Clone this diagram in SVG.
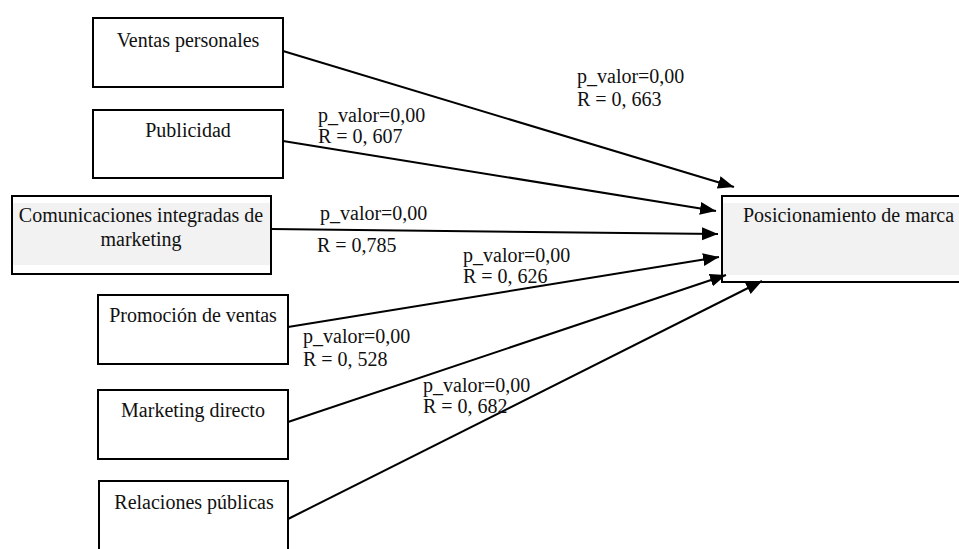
<svg xmlns="http://www.w3.org/2000/svg" width="959" height="549" viewBox="0 0 959 549">
<style>
.box{fill:#fff;stroke:#000;stroke-width:2}
.gray{fill:#f2f2f2;stroke:none}
.t{font-family:"Liberation Serif","Times New Roman",serif;font-size:20px;fill:#111}
.c{text-anchor:middle}
.ln{stroke:#000;stroke-width:2;fill:none;marker-end:url(#ah)}
</style>
<defs>
<marker id="ah" markerUnits="userSpaceOnUse" markerWidth="18" markerHeight="14" refX="16" refY="6.5" orient="auto">
<path d="M0,0 L16,6.5 L0,13 z" fill="#000"/>
</marker>
</defs>
<rect width="959" height="549" fill="#fff"/>
<g id="node-ventas">
<rect class="box" x="93" y="18" width="190" height="69"/>
<text class="t c" x="188" y="47">Ventas personales</text>
</g>
<g id="node-publicidad">
<rect class="box" x="93" y="110" width="190" height="68"/>
<text class="t c" x="188" y="137">Publicidad</text>
</g>
<g id="node-cim">
<rect class="box" x="12" y="196" width="259" height="78"/>
<rect class="gray" x="13" y="203" width="257" height="62"/>
<text class="t c" x="141" y="222">Comunicaciones integradas de</text>
<text class="t c" x="141" y="246">marketing</text>
</g>
<g id="node-promocion">
<rect class="box" x="98" y="295" width="190" height="69"/>
<text class="t c" x="193" y="322">Promoción de ventas</text>
</g>
<g id="node-directo">
<rect class="box" x="98" y="390" width="190" height="69"/>
<text class="t c" x="193" y="417">Marketing directo</text>
</g>
<g id="node-relaciones">
<rect class="box" x="99" y="481" width="189" height="80"/>
<text class="t c" x="194" y="509">Relaciones públicas</text>
</g>
<g id="node-posicionamiento">
<rect class="box" x="722" y="196" width="250" height="86"/>
<rect class="gray" x="723" y="203" width="248" height="72"/>
<text class="t" x="743" y="222">Posicionamiento de marca</text>
</g>
<g id="connectors">
<line class="ln" x1="283" y1="51" x2="734" y2="187"/>
<line class="ln" x1="283" y1="141" x2="716" y2="211"/>
<line class="ln" x1="271" y1="229" x2="718" y2="234"/>
<line class="ln" x1="288" y1="327" x2="719" y2="257"/>
<line class="ln" x1="288" y1="422" x2="726" y2="275"/>
<line class="ln" x1="288" y1="519" x2="762" y2="281"/>
</g>
<g id="labels">
<text class="t" x="577" y="83">p_valor=0,00</text>
<text class="t" x="577" y="106">R = 0, 663</text>
<text class="t" x="318" y="122">p_valor=0,00</text>
<text class="t" x="318" y="143">R = 0, 607</text>
<text class="t" x="320" y="220">p_valor=0,00</text>
<text class="t" x="317" y="252">R = 0,785</text>
<text class="t" x="463" y="262">p_valor=0,00</text>
<text class="t" x="463" y="283">R = 0, 626</text>
<text class="t" x="303" y="343">p_valor=0,00</text>
<text class="t" x="303" y="366">R = 0, 528</text>
<text class="t" x="423" y="392">p_valor=0,00</text>
<text class="t" x="423" y="413">R = 0, 682</text>
</g>
</svg>
